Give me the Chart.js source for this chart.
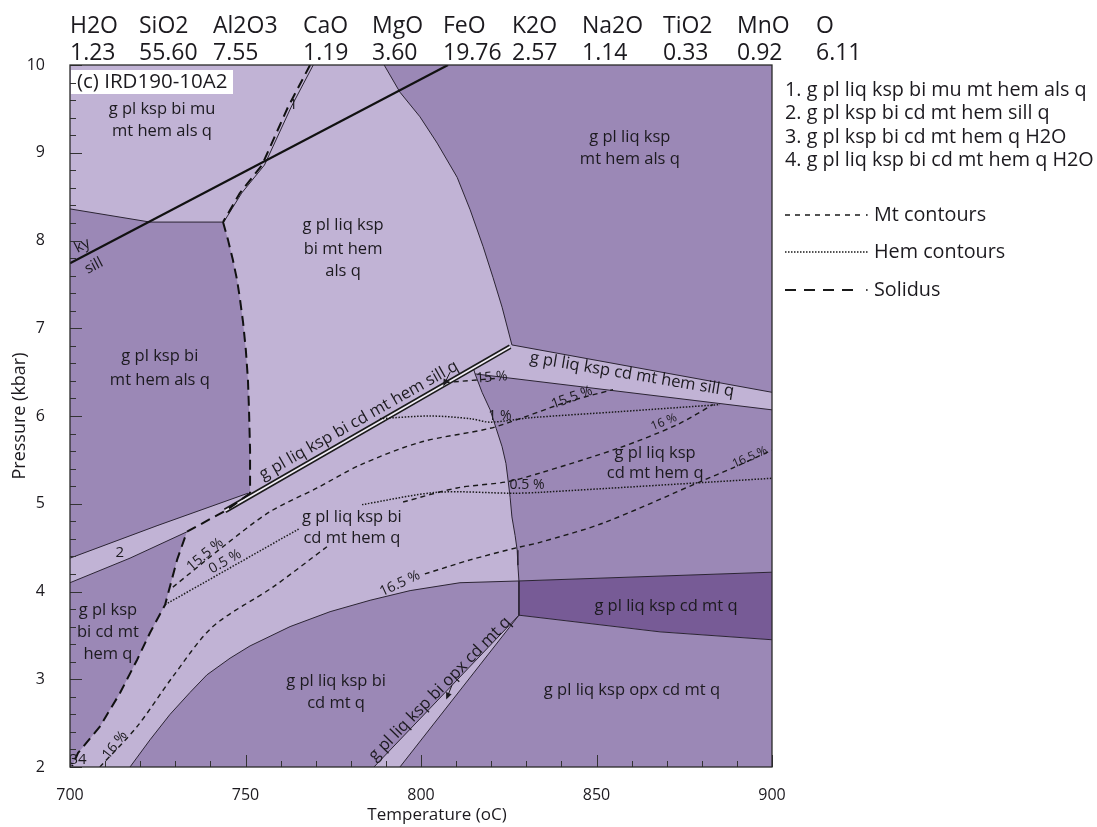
<!DOCTYPE html>
<html>
<head>
<meta charset="utf-8">
<script src="https://cdn.jsdelivr.net/npm/chart.js@4.4.1/dist/chart.umd.min.js"></script>
<style>
  html, body { margin: 0; padding: 0; background: #ffffff; }
  canvas { display: block; }
</style>
</head>
<body>
<canvas id="chart" width="1097" height="827" style="width:1097px;height:827px"></canvas>
<script>
// Bulk composition (mol %) shown above the section
const oxides  = ['H2O', 'SiO2', 'Al2O3', 'CaO', 'MgO', 'FeO', 'K2O', 'Na2O', 'TiO2', 'MnO', 'O'];
const amounts = ['1.23', '55.60', '7.55', '1.19', '3.60', '19.76', '2.57', '1.14', '0.33', '0.92', '6.11'];

// Axis ranges and tick labels
const tempRange  = [700, 900];
const pressRange = [2, 10];
const tempTicks  = [700, 750, 800, 850, 900];
const pressTicks = [2, 3, 4, 5, 6, 7, 8, 9, 10];

// Field boundaries as [T (°C), P (kbar)]
const kySill       = [[700, 7.74], [807.7, 10]];
const fieldAB      = [[700, 8.36], [722.8, 8.21], [743.6, 8.21]];
const solidusUpper = [[768.4, 10], [762.1, 9.52], [754.7, 8.86], [748.4, 8.54], [743.6, 8.21]];
const field1Edge   = [[769.3, 10], [763.0, 9.52], [755.4, 8.86], [748.9, 8.54], [743.8, 8.21]];
const solidusMid   = [[743.6, 8.21], [745.0, 8.01], [746.4, 7.78], [747.6, 7.55], [748.4, 7.34], [749.3, 7.07],
                      [750.1, 6.75], [750.7, 6.41], [751.0, 6.07], [751.3, 5.61], [751.3, 5.12]];
const band2Upper   = [[700, 4.38], [724.8, 4.75], [750.7, 5.12]];
const band2Lower   = [[700, 4.10], [717.1, 4.38], [733.3, 4.68]];
const solidusLower = [[751.3, 5.12], [744.7, 4.93], [733.3, 4.68], [730.5, 4.36], [727.1, 3.85], [722.8, 3.53],
                      [719.1, 3.22], [714.2, 2.84], [708.5, 2.46], [702.3, 2.16], [700.6, 2.01]];
const sillStrip    = [[744.2, 4.92], [825.4, 6.79]];
const curveUpper   = [[789.5, 10], [794.0, 9.69], [799.7, 9.41], [804.6, 9.11], [810.3, 8.72], [814.0, 8.35],
                      [817.7, 7.93], [820.5, 7.58], [823.1, 7.24], [825.9, 6.81]];
const bandRUpper   = [[825.9, 6.81], [900, 6.27]];
const bandRLower   = [[815.4, 6.48], [900, 6.07]];
const curveCd      = [[814.9, 6.55], [815.4, 6.48], [817.4, 6.27], [819.7, 6.07], [821.4, 5.86], [823.1, 5.65],
                      [824.2, 5.46], [824.8, 5.27], [825.4, 5.07], [825.9, 4.85], [826.8, 4.64], [827.4, 4.47],
                      [827.6, 4.30], [827.9, 4.12]];
const darkUpper    = [[827.9, 4.12], [900, 4.22]];
const darkLower    = [[827.9, 3.73], [868.1, 3.54], [900, 3.45]];
const darkEdge     = [[827.9, 4.12], [827.9, 3.73]];
const bottomCurve  = [[717.1, 2.0], [722.8, 2.31], [728.5, 2.60], [734.2, 2.85], [739.0, 3.05], [745.6, 3.24],
                      [751.3, 3.38], [757.0, 3.49], [762.7, 3.60], [774.1, 3.77], [785.5, 3.90], [796.9, 4.01],
                      [811.1, 4.10], [827.9, 4.12]];
const opxLeft      = [[786.6, 2.0], [827.9, 3.73]];
const opxRight     = [[794.0, 2.0], [827.9, 3.73]];

// Magnetite (Mt) isopleths
const mt15   = [[806.8, 6.38], [821.7, 6.43]];
const mt155  = [[729.3, 4.05], [744.2, 4.53], [757.0, 4.91], [770.4, 5.18], [782.6, 5.44], [799.7, 5.70],
                [819.7, 5.86], [829.6, 5.99], [841.6, 6.16], [854.7, 6.30]];
const mt16a  = [[708.5, 2.0], [719.1, 2.46], [729.3, 3.03], [740.7, 3.60], [757.8, 4.05], [773.2, 4.51]];
const mt16b  = [[794.9, 5.02], [810.3, 5.18], [824.5, 5.25], [833.9, 5.35], [856.7, 5.64], [872.9, 5.90], [883.2, 6.13]];
const mt165  = [[801.1, 4.20], [814.0, 4.36], [827.4, 4.50], [833.9, 4.56], [851.9, 4.78], [879.5, 5.25],
                [888.9, 5.41], [900, 5.61]];
// Hematite (Hem) isopleths
const hem1   = [[788.3, 5.97], [802.6, 6.00], [814.0, 5.97], [819.7, 5.93], [831.1, 5.98], [856.7, 6.05], [885.2, 6.13]];
const hem05a = [[727.1, 3.85], [765.5, 4.72]];
const hem05b = [[783.2, 4.99], [804.6, 5.13], [826.2, 5.12], [833.9, 5.13], [900, 5.29]];

// Assemblage labels: text, T, P, rotation (deg)
const fieldLabels = [
  ['g pl ksp bi mu', 726.2, 9.50, 0], ['mt hem als q', 726.2, 9.25, 0],
  ['g pl liq ksp', 777.8, 8.17, 0], ['bi mt hem', 777.8, 7.90, 0], ['als q', 777.8, 7.65, 0],
  ['g pl liq ksp', 859.5, 9.18, 0], ['mt hem als q', 859.5, 8.92, 0],
  ['g pl ksp bi', 725.6, 6.68, 0], ['mt hem als q', 725.6, 6.41, 0],
  ['g pl liq ksp bi cd mt hem sill q', 782.3, 5.95, -29.5],
  ['g pl liq ksp cd mt hem sill q', 860.1, 6.47, 9.5],
  ['g pl ksp', 710.8, 3.79, 0], ['bi cd mt', 710.8, 3.54, 0], ['hem q', 710.8, 3.28, 0],
  ['g pl liq ksp bi', 780.3, 4.84, 0], ['cd mt hem q', 780.3, 4.61, 0],
  ['g pl liq ksp', 866.7, 5.58, 0], ['cd mt hem q', 866.7, 5.35, 0],
  ['g pl liq ksp cd mt q', 869.8, 3.83, 0],
  ['g pl liq ksp opx cd mt q', 860.1, 2.87, 0],
  ['g pl liq ksp bi', 775.8, 2.98, 0], ['cd mt q', 775.8, 2.73, 0],
  ['g pl liq ksp bi opx cd mt q', 805.4, 2.89, -45.4]
];
const smallLabels = [
  ['2', 714.2, 4.44, 0], ['1', 763.6, 9.55, 0], ['34', 702.3, 2.08, 0],
  ['ky', 703.5, 7.94, -27.6], ['sill', 706.8, 7.71, -27.6]
];
const isoplethLabels = [
  ['15 %', 820.2, 6.44, -4, 14], ['1 %', 822.5, 6.00, 0, 14], ['15.5 %', 843.0, 6.21, -20, 14],
  ['16 %', 869.2, 5.93, -22, 12], ['0.5 %', 830.2, 5.21, 0, 14], ['16.5 %', 893.7, 5.53, -24, 12],
  ['15.5 %', 738.5, 4.42, -40, 14], ['0.5 %', 744.2, 4.34, -30, 14], ['16 %', 712.8, 2.25, -52, 14],
  ['16.5 %', 794.0, 4.09, -25, 14]
];
const pointerArrows = [
  [[808.3, 6.50], [806.6, 6.36]],
  [[808.8, 2.93], [807.4, 2.79]]
];
const keyAssemblages = [
  '1. g pl liq ksp bi mu mt hem als q',
  '2. g pl ksp bi cd mt hem sill q',
  '3. g pl ksp bi cd mt hem q H2O',
  '4. g pl liq ksp bi cd mt hem q H2O'
];
const keyLines = ['Mt contours', 'Hem contours', 'Solidus'];

// ---- styling ----
const LIGHT = '#c1b3d5', MEDIUM = '#9b88b6', DARK = '#775b96';
const EDGE = '#2b2433', INK = '#1c1a1f';
const FONT = "'Open Sans', 'Noto Sans', 'DejaVu Sans', sans-serif";

const rev = a => a.slice().reverse();
const toXY = a => a.map(([x, y]) => ({ x, y }));

function area(points, color) {
  return { data: toXY(points), fill: 'shape', backgroundColor: color, borderWidth: 0,
           borderColor: 'rgba(0,0,0,0)', pointRadius: 0, tension: 0 };
}
function path(points, color, width, dash, tension) {
  return { data: toXY(points), fill: false, borderColor: color, borderWidth: width,
           borderDash: dash || [], borderCapStyle: 'butt', borderJoinStyle: 'round',
           pointRadius: 0, tension: tension || 0 };
}

const datasets = [
  // shaded fields over the light background
  area([...fieldAB, ...solidusMid.slice(1), ...rev(band2Upper)], MEDIUM),
  area([...band2Lower, ...solidusLower.slice(2), [700, 2]], MEDIUM),
  area([...curveUpper, ...bandRUpper.slice(1), [900, 10]], MEDIUM),
  area([...bandRLower, ...rev(darkUpper), ...rev(curveCd).slice(1)], MEDIUM),
  area([...darkUpper, ...rev(darkLower)], DARK),
  area([...darkLower, [900, 2], ...opxRight], MEDIUM),
  area([...bottomCurve, ...rev(opxLeft)], MEDIUM),
  // field boundaries
  ...[fieldAB, band2Upper, band2Lower, curveUpper, bandRUpper, bandRLower, curveCd,
      darkUpper, darkLower, darkEdge, bottomCurve, opxLeft, opxRight, field1Edge]
      .map(b => path(b, EDGE, 1)),
  // narrow sill-bearing strip
  path(sillStrip, '#1a1a1a', 5),
  path(sillStrip, '#f3eff7', 1.8),
  // isopleths
  ...[mt15, mt155, mt16a, mt16b, mt165].map(c => path(c, '#1a1a1a', 1.4, [5, 4], 0.3)),
  ...[hem1, hem05a, hem05b].map(c => path(c, '#1a1a1a', 1.5, [1.5, 1.6], 0.3)),
  // solidus
  ...[solidusUpper, solidusMid, solidusLower].map(s => path(s, '#111111', 2, [10, 6])),
  // kyanite = sillimanite
  path(kySill, '#111111', 2.2)
];
datasets.forEach((d, i) => { d.order = datasets.length - i; });

function drawText(ctx, str, x, y, size, rot, align, baseline) {
  ctx.save();
  ctx.translate(x, y);
  if (rot) ctx.rotate(rot * Math.PI / 180);
  ctx.font = size + 'px ' + FONT;
  ctx.fillStyle = INK;
  ctx.textAlign = align || 'center';
  ctx.textBaseline = baseline || 'middle';
  ctx.fillText(str, 0, 0);
  ctx.restore();
}

const decor = {
  id: 'decor',
  beforeDatasetsDraw(chart) {
    const { ctx, chartArea: a } = chart;
    ctx.save();
    ctx.fillStyle = LIGHT;
    ctx.fillRect(a.left, a.top, a.right - a.left, a.bottom - a.top);
    ctx.restore();
  },
  afterDatasetsDraw(chart) {
    const { ctx, chartArea: a, scales: { x, y } } = chart;
    const P = (t, p) => [x.getPixelForValue(t), y.getPixelForValue(p)];

    fieldLabels.forEach(([s, t, p, r]) => { const [px, py] = P(t, p); drawText(ctx, s, px, py, 16.5, r); });
    smallLabels.forEach(([s, t, p, r]) => { const [px, py] = P(t, p); drawText(ctx, s, px, py, 15, r); });
    isoplethLabels.forEach(([s, t, p, r, f]) => { const [px, py] = P(t, p); drawText(ctx, s, px, py, f, r); });

    // pointer arrows to the narrow fields
    pointerArrows.forEach(([from, to]) => {
      const [x1, y1] = P(from[0], from[1]);
      const [x2, y2] = P(to[0], to[1]);
      const ang = Math.atan2(y2 - y1, x2 - x1);
      ctx.save();
      ctx.strokeStyle = INK; ctx.fillStyle = INK; ctx.lineWidth = 1;
      ctx.beginPath(); ctx.moveTo(x1, y1); ctx.lineTo(x2, y2); ctx.stroke();
      ctx.beginPath();
      ctx.moveTo(x2 + 2 * Math.cos(ang), y2 + 2 * Math.sin(ang));
      ctx.lineTo(x2 - 5 * Math.cos(ang) + 3 * Math.sin(ang), y2 - 5 * Math.sin(ang) - 3 * Math.cos(ang));
      ctx.lineTo(x2 - 5 * Math.cos(ang) - 3 * Math.sin(ang), y2 - 5 * Math.sin(ang) + 3 * Math.cos(ang));
      ctx.closePath(); ctx.fill();
      ctx.restore();
    });

    // sample name box
    ctx.save();
    ctx.fillStyle = '#ffffff';
    ctx.fillRect(a.left + 1, a.top + 5, 162, 24);
    ctx.restore();
    drawText(ctx, '(c) IRD190-10A2', a.left + 7, a.top + 17, 20.5, 0, 'left');

    // inward tick marks
    ctx.save();
    ctx.strokeStyle = '#333333'; ctx.lineWidth = 1;
    ctx.beginPath();
    for (let i = 0; i <= 40; i++) {
      const v = pressRange[0] + i * 0.2;
      const py = Math.round(y.getPixelForValue(v)) + 0.5;
      const len = i % 5 === 0 ? 12 : 6;
      ctx.moveTo(a.left, py); ctx.lineTo(a.left + len, py);
    }
    for (let i = 0; i <= 20; i++) {
      const v = tempRange[0] + i * 10;
      const px = Math.round(x.getPixelForValue(v)) + 0.5;
      const len = i % 5 === 0 ? 12 : 6;
      ctx.moveTo(px, a.bottom); ctx.lineTo(px, a.bottom - len);
    }
    ctx.stroke();
    // frame
    ctx.strokeStyle = '#2a2a2a'; ctx.lineWidth = 1.3;
    ctx.strokeRect(a.left, a.top, a.right - a.left, a.bottom - a.top);
    ctx.restore();
  },
  afterDraw(chart) {
    const { ctx, chartArea: a } = chart;
    // composition header
    const colX = [70, 139, 213, 303, 372, 443, 512, 582, 663, 737, 816];
    oxides.forEach((s, i) => drawText(ctx, s, colX[i], 33, 23, 0, 'left', 'alphabetic'));
    amounts.forEach((s, i) => drawText(ctx, s, colX[i], 60, 23, 0, 'left', 'alphabetic'));

    // numbered assemblages
    keyAssemblages.forEach((s, i) => drawText(ctx, s, 785, 90 + i * 23.5, 19.8, 0, 'left'));

    // line style key
    const keyY = [215, 252, 290];
    const dashes = [[5, 5], [1.5, 1.5], [11, 8]];
    const widths = [1.4, 1.3, 1.9];
    keyLines.forEach((s, i) => {
      ctx.save();
      ctx.strokeStyle = '#1a1a1a'; ctx.lineWidth = widths[i]; ctx.setLineDash(dashes[i]);
      ctx.beginPath(); ctx.moveTo(785, keyY[i]); ctx.lineTo(i === 1 ? 868 : 861, keyY[i]); ctx.stroke();
      ctx.setLineDash([]);
      if (i !== 1) { ctx.fillStyle = '#1a1a1a'; ctx.fillRect(866, keyY[i] - 0.8, 1.6, 1.6); }
      ctx.restore();
      drawText(ctx, s, 874, keyY[i], 19.8, 0, 'left');
    });

    // axis titles
    drawText(ctx, 'Temperature (oC)', (a.left + a.right) / 2 + 16, 815, 17);
    drawText(ctx, 'Pressure (kbar)', 20, (a.top + a.bottom) / 2, 18, -90);
  }
};

new Chart(document.getElementById('chart'), {
  type: 'line',
  data: { datasets },
  options: {
    responsive: false,
    animation: false,
    devicePixelRatio: 1,
    events: [],
    layout: { padding: { left: 0, top: 65, right: 325, bottom: 0 } },
    plugins: { legend: { display: false }, tooltip: { enabled: false } },
    scales: {
      x: {
        type: 'linear', min: tempRange[0], max: tempRange[1],
        afterFit: s => { s.height = 60; },
        afterBuildTicks: s => { s.ticks = tempTicks.map(v => ({ value: v })); },
        grid: { display: false, drawTicks: false },
        border: { display: false },
        ticks: { padding: 19, color: INK, font: { family: FONT, size: 16 }, maxRotation: 0 }
      },
      y: {
        type: 'linear', min: pressRange[0], max: pressRange[1],
        afterFit: s => { s.width = 70; },
        afterBuildTicks: s => { s.ticks = pressTicks.map(v => ({ value: v })); },
        grid: { display: false, drawTicks: false },
        border: { display: false },
        ticks: { padding: 25, color: INK, font: { family: FONT, size: 16 } }
      }
    }
  },
  plugins: [decor]
});
</script>
</body>
</html>
